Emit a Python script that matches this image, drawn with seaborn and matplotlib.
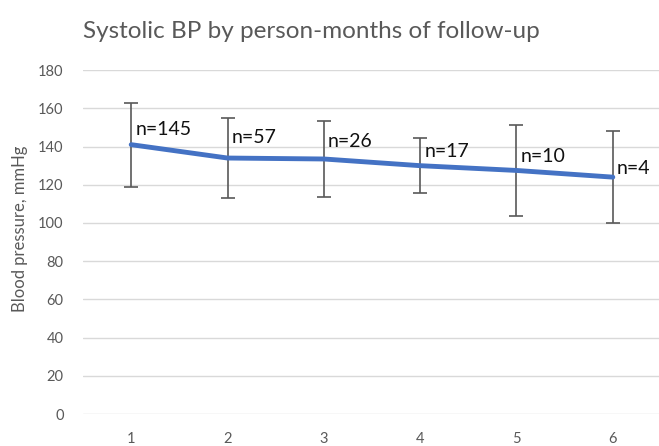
import matplotlib
matplotlib.use("Agg")
import matplotlib.pyplot as plt
import seaborn as sns
import pandas as pd

months = [1, 2, 3, 4, 5, 6]
mean_bp = [141, 134, 133.5, 130, 127.5, 124]
sd_bp = [22, 21, 20, 14.5, 24, 24]
n_labels = ["n=145", "n=57", "n=26", "n=17", "n=10", "n=4"]
label_offsets = [(3, 11), (3, 15), (3, 12.5), (3, 10.5), (3, 10), (3, 6)]

df = pd.DataFrame({"month": months, "bp": mean_bp, "sd": sd_bp})

sns.set_theme(style="white")
plt.rcParams['font.family'] = ['Lato', 'DejaVu Sans']

fig = plt.figure(figsize=(6.59, 4.46), dpi=100)
ax = fig.add_axes([0.126, 0.0717, 0.877, 0.771])

ax.errorbar(df["month"], df["bp"], yerr=df["sd"], fmt="none", ecolor="#595959",
            elinewidth=1.2, capsize=5, capthick=1.2, zorder=2)
sns.lineplot(data=df, x="month", y="bp", ax=ax, color="#4472C4", linewidth=3.5, zorder=3)

for x, y, t, off in zip(months, mean_bp, n_labels, label_offsets):
    ax.annotate(t, (x, y), xytext=off, textcoords="offset points", ha="left", va="center",
                fontsize=14, color="#111111")

ax.set_xlim(0.5, 6.5)
ax.set_ylim(0, 180)
ax.set_yticks(range(0, 181, 20))
ax.set_xticks(months)
ax.yaxis.grid(True, color="#D9D9D9", linewidth=1)
ax.xaxis.grid(False)
for s in ax.spines.values():
    s.set_visible(False)
ax.tick_params(axis="both", colors="#595959", labelsize=10.5, length=0, pad=14)
ax.tick_params(axis="x", pad=13)
ax.set_xlabel("")
ax.set_ylabel("Blood pressure, mmHg", color="#595959", fontsize=12)
ax.yaxis.set_label_coords(-0.095, 0.54)
fig.text(0.126, 0.93, "Systolic BP by person-months of follow-up", fontsize=17.5, color="#595959",
         ha="left", va="center")

fig.savefig("out.png", dpi=100)
